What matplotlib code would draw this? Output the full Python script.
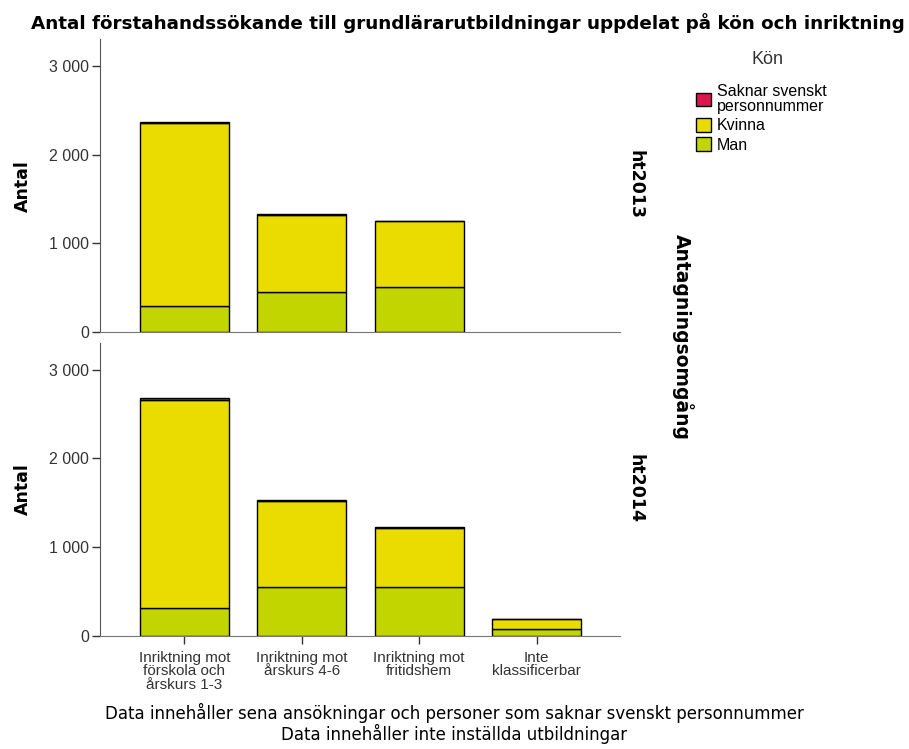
import matplotlib.pyplot as plt
from matplotlib.patches import Patch

plt.rcParams['font.family'] = ['Liberation Sans', 'DejaVu Sans']

categories = ['Inriktning mot\nförskola och\nårskurs 1-3', 'Inriktning mot\nårskurs 4-6',
              'Inriktning mot\nfritidshem', 'Inte\nklassificerbar']
rounds = ['ht2013', 'ht2014']

# Man, Kvinna, Saknar svenskt personnummer per omgång
man = {'ht2013': [297, 452, 508, 0], 'ht2014': [320, 552, 552, 80]}
kvinna = {'ht2013': [2053, 863, 741, 0], 'ht2014': [2340, 970, 668, 115]}
saknar = {'ht2013': [18, 10, 5, 0], 'ht2014': [25, 15, 5, 1]}

col_man = '#c3d500'
col_kvinna = '#ebdc00'
col_saknar = '#dc1450'
bold_font = ['DejaVu Sans']

fig = plt.figure(figsize=(9.09, 7.49), dpi=100)
ax_top = fig.add_axes([0.110, 0.5567, 0.572, 0.391])
ax_bot = fig.add_axes([0.110, 0.1509, 0.572, 0.391])

x = list(range(len(categories)))
for ax, r in zip([ax_top, ax_bot], rounds):
    m = man[r]
    k = kvinna[r]
    s = saknar[r]
    mk = [a + b for a, b in zip(m, k)]
    keep = [i for i in x if m[i] + k[i] + s[i] > 0]
    kw = dict(width=0.76, edgecolor='black', linewidth=1.0)
    ax.bar([x[i] for i in keep], [m[i] for i in keep], color=col_man, **kw)
    ax.bar([x[i] for i in keep], [k[i] for i in keep], bottom=[m[i] for i in keep],
           color=col_kvinna, **kw)
    ax.bar([x[i] for i in keep], [s[i] for i in keep], bottom=[mk[i] for i in keep],
           color=col_saknar, **kw)
    ax.set_xlim(-0.72, 3.71)
    ax.set_ylim(0, 3300)
    ax.set_yticks([0, 1000, 2000, 3000])
    ax.set_yticklabels(['0', '1 000', '2 000', '3 000'])
    ax.spines['top'].set_visible(False)
    ax.spines['right'].set_visible(False)
    ax.spines['left'].set_color('#555555')
    ax.spines['bottom'].set_color('#777777')
    ax.tick_params(axis='y', labelsize=11.5, colors='#333333', length=6, width=1, pad=2)
    ax.set_ylabel('Antal', fontsize=12.5, fontweight='bold', family=bold_font)
    ax.yaxis.set_label_coords(-0.13, 0.5)
    ax.text(1.03, 0.505, r, transform=ax.transAxes, rotation=-90, fontsize=12.5,
            fontweight='bold', family=bold_font, ha='center', va='center')

ax_top.set_xticks([])
ax_bot.set_xticks(x)
ax_bot.set_xticklabels(categories, fontsize=11, linespacing=0.93)
ax_bot.tick_params(axis='x', length=6, width=1, colors='#333333', pad=5)

fig.text(0.751, 0.550, 'Antagningsomgång', rotation=-90, fontsize=13.5,
         fontweight='bold', family=bold_font, ha='center', va='center')

fig.text(0.515, 0.969,
         'Antal förstahandssökande till grundlärarutbildningar uppdelat på kön och inriktning',
         ha='center', va='center', fontsize=13.2, fontweight='bold', family=bold_font)

fig.text(0.5, 0.0475, 'Data innehåller sena ansökningar och personer som saknar svenskt personnummer',
         ha='center', va='center', fontsize=12, family=['DejaVu Sans'])
fig.text(0.5, 0.0195, 'Data innehåller inte inställda utbildningar',
         ha='center', va='center', fontsize=12, family=['DejaVu Sans'])

fig.text(0.844, 0.921, 'Kön', ha='center', va='center', fontsize=13, color='#333333')

handles = [Patch(facecolor=col_saknar, edgecolor='black'),
           Patch(facecolor=col_kvinna, edgecolor='black'),
           Patch(facecolor=col_man, edgecolor='black')]
labels = ['Saknar svenskt\npersonnummer', 'Kvinna', 'Man']
leg = fig.legend(handles, labels, loc='upper left',
                 bbox_to_anchor=(0.766, 0.888), frameon=False, fontsize=11.5,
                 handlelength=0.94, handleheight=0.94,
                 handletextpad=0.35, labelspacing=0.25, borderpad=0,
                 borderaxespad=0)
for t in leg.get_texts():
    t.set_linespacing(1.0)

fig.savefig('out.png', dpi=100)
